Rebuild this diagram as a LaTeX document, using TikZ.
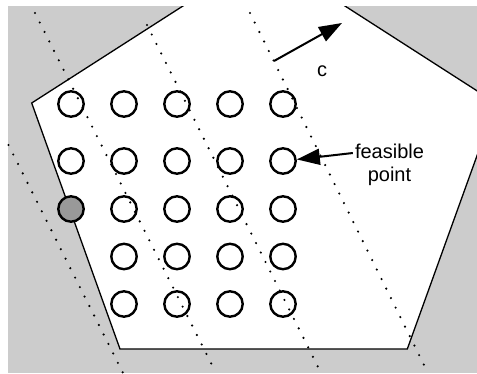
\documentclass[tikz,border=0pt]{standalone}
\usepackage{fontspec}
\setmainfont{Liberation Sans}
\usetikzlibrary{arrows.meta}
\definecolor{bggray}{RGB}{204,204,204}
\definecolor{ptgray}{RGB}{153,153,153}
\begin{document}
\begin{tikzpicture}[x=1pt,y=-1pt,
  pt/.style={circle,draw=black,line width=2.4pt,minimum size=25.4pt,inner sep=0pt},
  best/.style={pt,fill=ptgray},
  level/.style={line width=2.4pt,line cap=round,dash pattern=on 0pt off 10.6pt},
  lbl/.style={font=\fontsize{20}{24}\selectfont,inner sep=0pt,anchor=base},
  pointer/.style={line width=2pt,-{Triangle[length=23pt,width=16pt]}}]
\useasboundingbox (0,0) rectangle (477,373);
\fill[bggray] (8,6) rectangle (477,373);
\begin{scope}
  \clip (8,6) rectangle (477,373);
  \filldraw[fill=white,draw=black,line width=1.3pt]
    (31.7,103) -- (264,-46) -- (496,103) -- (407.3,349) -- (120,349) -- cycle;
\end{scope}
% objective level lines
\draw[level] (35,13) -- (213,367);
\draw[level] (147,25) -- (318,367);
\draw[level] (250,13) -- (425,367);
\draw[level] (8.5,145) -- (123,373);
% integer points
\foreach \c/\x in {1/71,2/124,3/177,4/230,5/283}{
  \node[pt] (p1\c) at (\x,104) {};
  \node[pt] (p2\c) at (\x,161) {};
}
\node[best] (p31) at (71,209) {};
\foreach \c/\x in {2/124,3/177,4/230,5/283}{
  \node[pt] (p3\c) at (\x,209) {};
  \node[pt] (p4\c) at (\x,256.5) {};
  \node[pt] (p5\c) at (\x,304) {};
}
% labels
\node[lbl] (feas) at (389.5,158) {feasible};
\node[lbl] (pnt) at (389.5,181.5) {point};
\node[lbl] (clbl) at (322,76) {c};
\draw[pointer] ([shift={(-2,-5)}]feas.base west) -- (p25);
\coordinate (ctail) at (274,61);
\coordinate (chead) at (342,23);
\draw[pointer] (ctail) -- (chead);
\end{tikzpicture}
\end{document}
